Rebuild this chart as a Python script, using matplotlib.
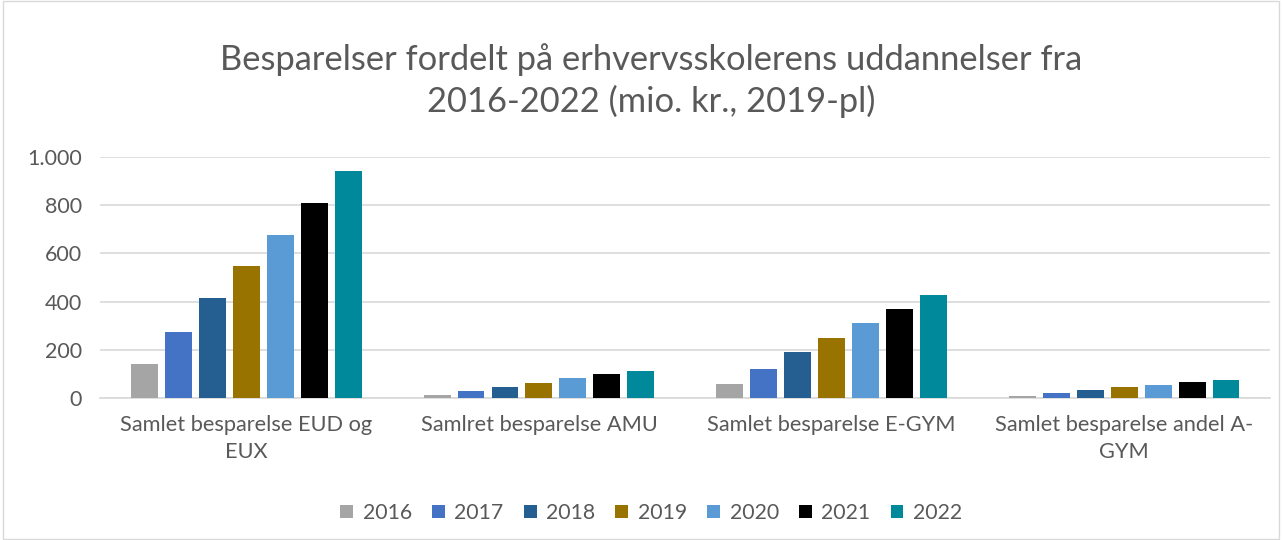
import matplotlib
matplotlib.use("Agg")
import matplotlib.pyplot as plt
import numpy as np

plt.rcParams['font.family'] = ['Lato', 'DejaVu Sans']

categories = ["Samlet besparelse EUD og\nEUX", "Samlret besparelse AMU",
              "Samlet besparelse E-GYM", "Samlet besparelse andel A-\nGYM"]
years = ["2016", "2017", "2018", "2019", "2020", "2021", "2022"]
values = {
    "2016": [142, 11, 58, 8],
    "2017": [275, 28, 122, 19],
    "2018": [414, 46, 189, 32],
    "2019": [546, 62, 250, 44],
    "2020": [678, 82, 310, 54],
    "2021": [811, 101, 368, 65],
    "2022": [942, 114, 428, 74],
}
colors = ["#A5A5A5", "#4472C4", "#255E91", "#997300", "#5B9BD5", "#000000", "#00899B"]
yticks = [0, 200, 400, 600, 800, 1000]
ytick_labels = ["0", "200", "400", "600", "800", "1.000"]

fig = plt.figure(figsize=(12.82, 5.40), dpi=100)
fig.patches.append(plt.Rectangle((0.002, 0.002), 0.996, 0.996, transform=fig.transFigure,
                                 fill=False, edgecolor="#D9D9D9", linewidth=1))
ax = fig.add_axes([0.078, 0.263, 0.913, 0.446])

x = np.arange(len(categories))
step = 0.116
width = 0.092
for i, (yr, c) in enumerate(zip(years, colors)):
    ax.bar(x + (i - 3) * step, values[yr], width=width, color=c, label=yr, zorder=3)

ax.set_xlim(-0.5, len(categories) - 0.5)
ax.set_ylim(0, 1000)
ax.set_yticks(yticks)
ax.set_yticklabels(ytick_labels)
ax.set_xticks(x)
ax.set_xticklabels(categories, fontsize=15.7, color="#595959", linespacing=1.45)
ax.tick_params(axis='y', labelsize=15.5, labelcolor="#595959", length=0, pad=13)
ax.tick_params(axis='x', length=0, pad=12)
ax.grid(axis='y', color="#D9D9D9", linewidth=1.2, zorder=0)
for s in ["top", "right", "left"]:
    ax.spines[s].set_visible(False)
ax.spines["bottom"].set_color("#D9D9D9")
ax.spines["bottom"].set_linewidth(1.2)

fig.text(0.508, 0.851, "Besparelser fordelt på erhvervsskolerens uddannelser fra\n2016-2022 (mio. kr., 2019-pl)",
         ha="center", va="center", fontsize=24.8, color="#595959", linespacing=1.3)

fig.legend(loc="center", bbox_to_anchor=(0.508, 0.05), ncol=7, frameon=False,
           fontsize=15.3, labelcolor="#595959", handlelength=0.6, handleheight=0.6,
           columnspacing=0.95, handletextpad=0.45)

fig.savefig("out.png", dpi=100)
